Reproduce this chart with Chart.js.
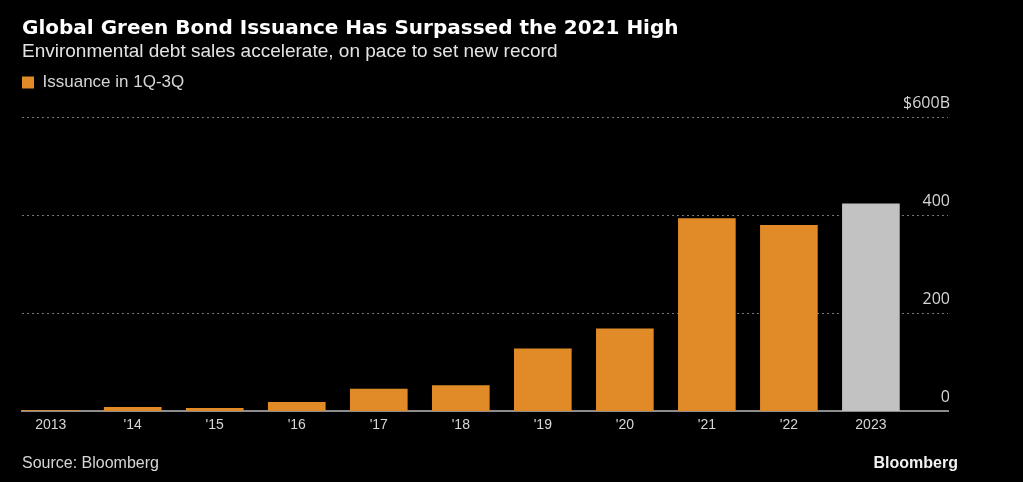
<!DOCTYPE html>
<html>
<head>
<meta charset="utf-8">
<script src="https://cdn.jsdelivr.net/npm/chart.js@4.4.0/dist/chart.umd.min.js"></script>
<style>
  html, body { margin: 0; padding: 0; background: #000; }
  canvas { display: block; }
</style>
</head>
<body>
<canvas id="greenBondChart" width="1023" height="482"></canvas>
<script>
// Issuance in 1Q-3Q, $ billions
const years = ['2013', "'14", "'15", "'16", "'17", "'18", "'19", "'20", "'21", "'22", '2023'];
const issuance = [1, 8, 6, 18, 45, 52, 127, 168, 393, 379, 423];
const yTicks = [0, 200, 400, 600];

const ORANGE = '#e08b28';
const GREY = '#c2c2c2';
const NARROW = '"Liberation Sans", Arial, sans-serif';

// footer texts drawn under the plot
const footerPlugin = {
    id: 'footer',
    afterDraw(chart) {
        const ctx = chart.ctx;
        ctx.save();
        ctx.textBaseline = 'middle';
        ctx.fillStyle = '#d6d6d6';
        ctx.font = '16px ' + NARROW;
        ctx.textAlign = 'left';
        ctx.fillText('Source: Bloomberg', 22, 464);
        ctx.fillStyle = '#f2f2f2';
        ctx.font = 'bold 16px ' + NARROW;
        ctx.textAlign = 'right';
        ctx.fillText('Bloomberg', 958, 464);
        ctx.restore();
    }
};

const ctx = document.getElementById('greenBondChart').getContext('2d');

new Chart(ctx, {
    type: 'bar',
    data: {
        datasets: [{
            label: 'Issuance in 1Q-3Q',
            data: issuance.map((v, i) => ({ x: i, y: v })),
            backgroundColor: issuance.map((v, i) => i === years.length - 1 ? GREY : ORANGE),
            borderWidth: 0,
            barThickness: 57
        }]
    },
    options: {
        responsive: false,
        animation: false,
        layout: {
            padding: { left: 22, right: 71, top: 0, bottom: 42 }
        },
        plugins: {
            title: {
                display: true,
                text: 'Global Green Bond Issuance Has Surpassed the 2021 High',
                align: 'start',
                color: '#ffffff',
                font: { family: '"DejaVu Sans"', size: 20, weight: 'bold', lineHeight: 1 },
                padding: { top: 19, bottom: 0 }
            },
            subtitle: {
                display: true,
                text: 'Environmental debt sales accelerate, on pace to set new record',
                align: 'start',
                color: '#e4e4e4',
                font: { family: NARROW, size: 19, lineHeight: 1 },
                padding: { top: 3, bottom: 13 }
            },
            legend: {
                display: true,
                align: 'start',
                labels: {
                    color: '#d6d6d6',
                    boxWidth: 12,
                    boxHeight: 12,
                    padding: 0,
                    font: { family: NARROW, size: 17 }
                }
            },
            tooltip: { enabled: false }
        },
        scales: {
            x: {
                type: 'linear',
                offset: false,
                min: -0.35,
                max: 10.94,
                grid: { display: false, drawTicks: false, offset: false },
                border: { display: true, color: '#8c8c8c', width: 2 },
                ticks: {
                    stepSize: 1,
                    includeBounds: false,
                    autoSkip: false,
                    maxRotation: 0,
                    padding: 6,
                    color: '#d6d6d6',
                    font: { family: NARROW, size: 14 },
                    callback: (v) => Number.isInteger(v) && years[v] !== undefined ? years[v] : ''
                }
            },
            xTop: {
                // spacer between the legend and the top gridline
                type: 'category',
                position: 'top',
                grid: { display: false },
                border: { display: false },
                ticks: { display: false },
                afterFit(scale) { scale.height = 16; }
            },
            y: {
                position: 'right',
                min: yTicks[0],
                max: yTicks[yTicks.length - 1],
                afterBuildTicks(scale) {
                    scale.ticks = yTicks.map(v => ({ value: v }));
                },
                grid: {
                    drawTicks: false,
                    lineWidth: 1,
                    color: (c) => c.tick && c.tick.value === 0 ? 'rgba(0,0,0,0)' : '#777777'
                },
                border: { display: false, dash: [2, 3] },
                ticks: {
                    mirror: true,
                    padding: 2,
                    labelOffset: -14,
                    color: '#d6d6d6',
                    font: { family: '"Open Sans"', size: 16 },
                    callback: (v) => v === 600 ? '$600B' : String(v)
                }
            }
        }
    },
    plugins: [footerPlugin]
});
</script>
</body>
</html>
